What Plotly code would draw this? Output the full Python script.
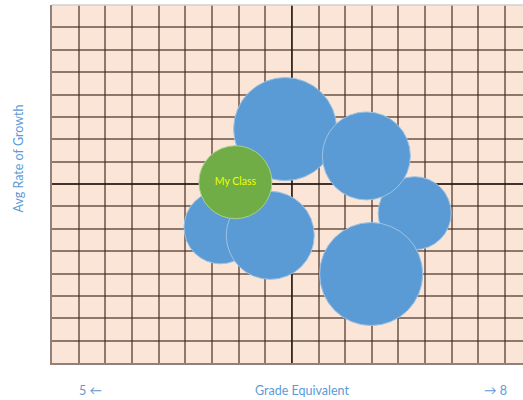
import plotly.graph_objects as go

# Class bubbles: grade equivalent vs. average rate of growth
class_names = ["Class A", "Class C", "Class B", "Class D", "Class E", "Class F", "My Class"]
grade_equiv = [6.458, 7.268, 6.966, 6.996, 6.054, 6.365, 6.147]
growth_rate = [0.307, -0.163, 0.157, -0.503, -0.242, -0.287, 0.010]
bubble_size = [103, 73, 88, 103, 73, 88, 73]

blue = "#5B9BD5"
green = "#70AD47"
font_family = "Lato, 'Open Sans', sans-serif"

fig = go.Figure()

# Other classes
others = [i for i, n in enumerate(class_names) if n != "My Class"]
fig.add_trace(go.Scatter(
    x=[grade_equiv[i] for i in others],
    y=[growth_rate[i] for i in others],
    mode="markers",
    marker=dict(
        size=[bubble_size[i] for i in others],
        sizemode="diameter",
        sizeref=1,
        color=blue,
        opacity=1,
        line=dict(color="#9CC2E5", width=1),
    ),
    hovertext=[class_names[i] for i in others],
    showlegend=False,
))

# Highlighted class
mine = class_names.index("My Class")
fig.add_trace(go.Scatter(
    x=[grade_equiv[mine]],
    y=[growth_rate[mine]],
    mode="markers+text",
    text=["My Class"],
    textposition="middle center",
    textfont=dict(family=font_family, size=10.5, color="#EEFF00"),
    marker=dict(
        size=[bubble_size[mine]],
        sizemode="diameter",
        sizeref=1,
        color=green,
        opacity=1,
        line=dict(color="#A9D18E", width=1),
    ),
    showlegend=False,
))

grid_col = "rgba(70,45,35,0.6)"
x_lo, x_hi = 5.0, 7.9456
y_lo, y_hi = -1.0, 1.0

fig.update_xaxes(
    range=[x_lo, x_hi], tick0=5, dtick=1 / 6,
    showgrid=True, gridcolor=grid_col, gridwidth=1.5,
    showticklabels=False, ticks="", zeroline=False,
    showline=True, linecolor=grid_col, linewidth=1.5,
)
fig.update_yaxes(
    range=[y_lo, y_hi], tick0=0, dtick=0.125,
    showgrid=True, gridcolor=grid_col, gridwidth=1.5,
    showticklabels=False, ticks="",
    zeroline=True, zerolinecolor="rgba(30,20,15,0.85)", zerolinewidth=1.5,
    showline=True, linecolor=grid_col, linewidth=1.5,
)

shapes = [
    # central vertical divider
    dict(type="line", xref="x", yref="y", x0=6.5, x1=6.5, y0=y_lo, y1=y_hi,
         line=dict(color="rgba(30,20,15,0.85)", width=1.5), layer="between"),
    # top border
    dict(type="line", xref="paper", yref="paper", x0=0, x1=1, y0=1, y1=1,
         line=dict(color="#D0D0D0", width=1.5), layer="above"),
]

label_font = dict(family=font_family, size=12.5, color=blue)
annotations = [
    dict(text="Avg Rate of Growth", xref="paper", yref="paper",
         x=-0.071, y=0.570, xanchor="center", yanchor="middle",
         textangle=-90, showarrow=False, font=label_font),
    dict(text="Grade Equivalent", xref="paper", yref="paper",
         x=0.5305, y=-0.077, xanchor="center", yanchor="middle",
         showarrow=False, font=label_font),
    dict(text="5 \u2190", xref="paper", yref="paper",
         x=0.082, y=-0.077, xanchor="center", yanchor="middle",
         showarrow=False, font=label_font),
    dict(text="\u2192 8", xref="paper", yref="paper",
         x=0.9406, y=-0.077, xanchor="center", yanchor="middle",
         showarrow=False, font=label_font),
]

fig.update_layout(
    width=523, height=400,
    margin=dict(l=51.7, r=0, t=5, b=36.7),
    paper_bgcolor="white",
    plot_bgcolor="#FBE5D6",
    shapes=shapes,
    annotations=annotations,
    showlegend=False,
)

fig.write_html("out.html")
